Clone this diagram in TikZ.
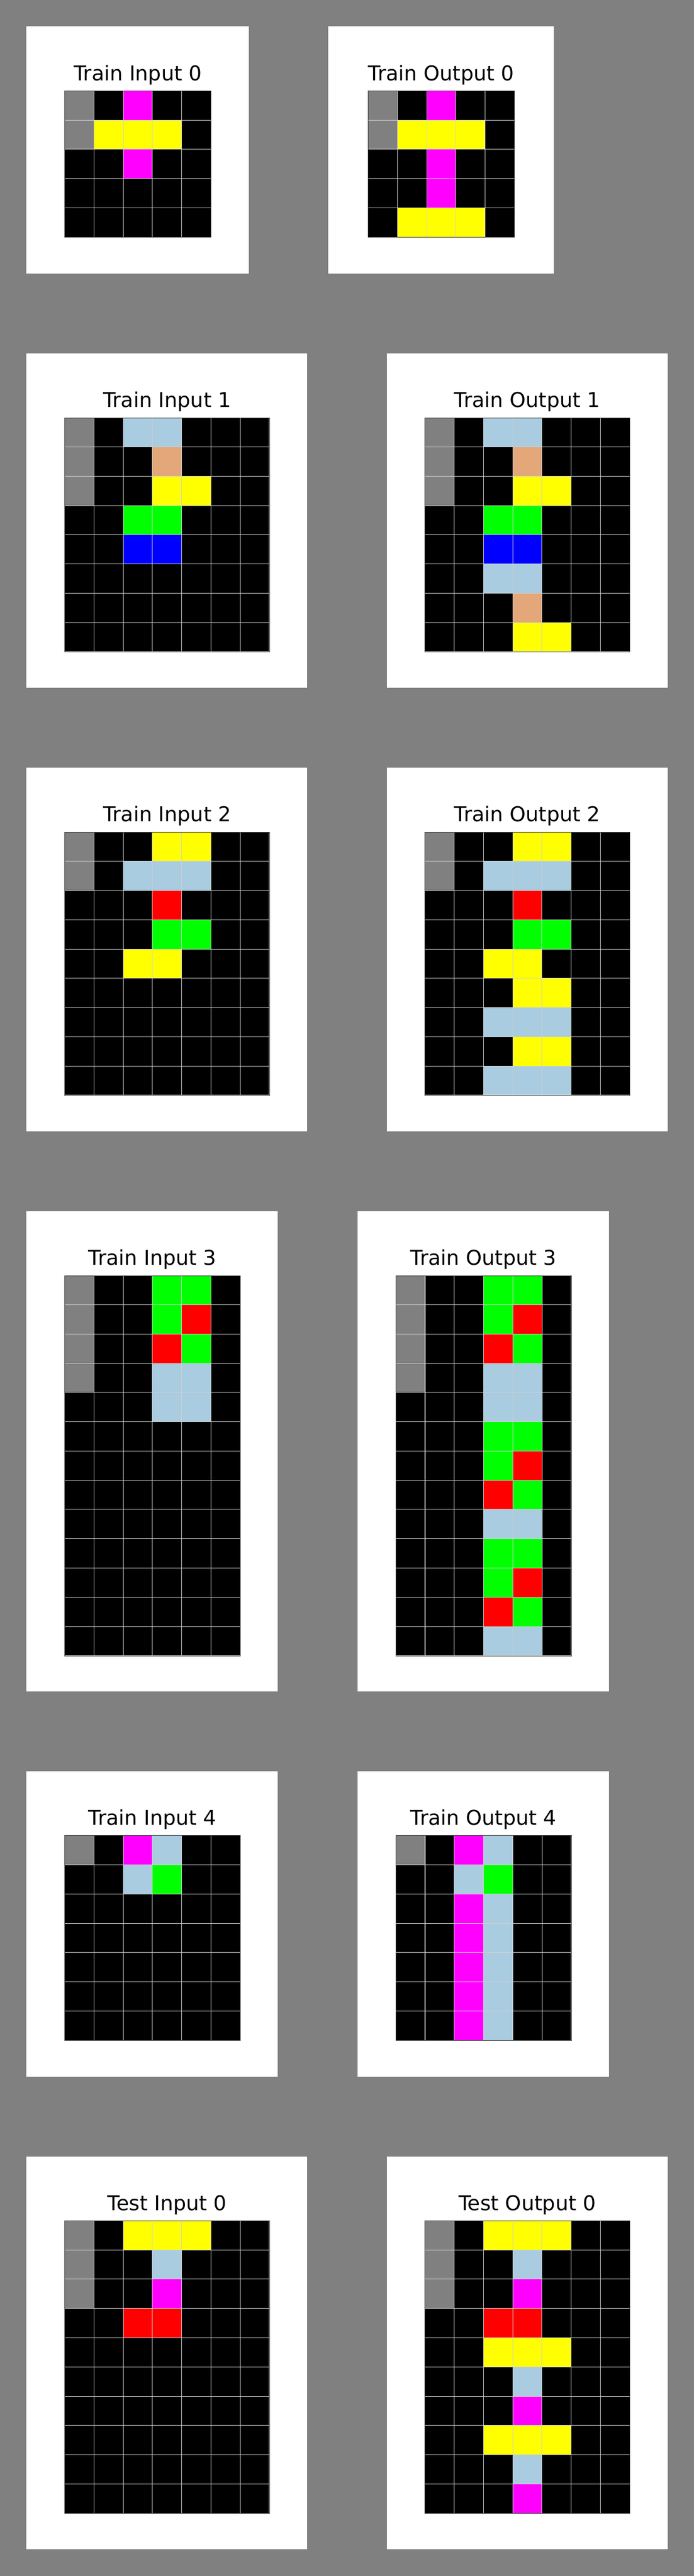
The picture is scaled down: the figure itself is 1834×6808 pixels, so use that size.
\documentclass[tikz,border=0pt]{standalone}
\usepackage{fontspec}
\newfontfamily\ttlfont{DejaVu Sans}
\definecolor{bgc}{HTML}{808080}
\definecolor{cK}{HTML}{000000}
\definecolor{cX}{HTML}{808080}
\definecolor{cM}{HTML}{FF00FF}
\definecolor{cY}{HTML}{FFFF00}
\definecolor{cL}{HTML}{A9CCE0}
\definecolor{cT}{HTML}{E3A77A}
\definecolor{cG}{HTML}{00FF00}
\definecolor{cU}{HTML}{0000FF}
\definecolor{cR}{HTML}{FF0000}
\definecolor{glc}{HTML}{D0D0D0}
\definecolor{olc}{HTML}{404040}
\def\cs{77.3}
\tikzset{
  gline/.style={draw=glc, line width=1.4pt},
  oline/.style={draw=olc, line width=0.8pt},
  panelbox/.style={fill=white},
  ttl/.style={anchor=base, inner sep=0pt, font=\ttlfont\fontsize{54}{60}\selectfont, text=black},
}
\newcommand{\panelbg}[4]{\fill[panelbox] (#1,#2) rectangle (#3,#4);}
\newcommand{\arcgrid}[7]{%
  \begin{scope}[shift={(#1,#2)}]
    \foreach \rw [count=\r from 0] in {#5} {
      \foreach \cc [count=\c from 0] in \rw {
        \fill[fill=c\cc] (\c*\cs,\r*\cs) rectangle ++(\cs,\cs);
      }
    }
    \foreach \i in {0,...,#3} \draw[gline] (\i*\cs,0) -- (\i*\cs,#4*\cs);
    \foreach \j in {0,...,#4} \draw[gline] (0,\j*\cs) -- (#3*\cs,\j*\cs);
    \draw[oline] (0,0) rectangle (#3*\cs,#4*\cs);
    \node[ttl] (#6) at (#3*\cs/2,-27.3) {#7};
  \end{scope}}
\begin{document}
\begin{tikzpicture}[x=1pt,y=-1pt]
\useasboundingbox (0,0) rectangle (1834,6808);
\fill[bgc] (0,0) rectangle (1834,6808);
% Row 0
\panelbg{70}{70}{657}{723}
\arcgrid{171}{240}{5}{5}{{X,K,M,K,K},{X,Y,Y,Y,K},{K,K,M,K,K},{K,K,K,K,K},{K,K,K,K,K}}{ti0}{Train Input 0}
\panelbg{867}{70}{1464}{723}
\arcgrid{973}{240}{5}{5}{{X,K,M,K,K},{X,Y,Y,Y,K},{K,K,M,K,K},{K,K,M,K,K},{K,Y,Y,Y,K}}{to0}{Train Output 0}
% Row 1
\panelbg{70}{934}{812}{1818}
\arcgrid{171}{1104}{7}{8}{{X,K,L,L,K,K,K},{X,K,K,T,K,K,K},{X,K,K,Y,Y,K,K},{K,K,G,G,K,K,K},{K,K,U,U,K,K,K},{K,K,K,K,K,K,K},{K,K,K,K,K,K,K},{K,K,K,K,K,K,K}}{ti1}{Train Input 1}
\panelbg{1022}{934}{1764}{1818}
\arcgrid{1123}{1104}{7}{8}{{X,K,L,L,K,K,K},{X,K,K,T,K,K,K},{X,K,K,Y,Y,K,K},{K,K,G,G,K,K,K},{K,K,U,U,K,K,K},{K,K,L,L,K,K,K},{K,K,K,T,K,K,K},{K,K,K,Y,Y,K,K}}{to1}{Train Output 1}
% Row 2
\panelbg{70}{2029}{812}{2990}
\arcgrid{171}{2199}{7}{9}{{X,K,K,Y,Y,K,K},{X,K,L,L,L,K,K},{K,K,K,R,K,K,K},{K,K,K,G,G,K,K},{K,K,Y,Y,K,K,K},{K,K,K,K,K,K,K},{K,K,K,K,K,K,K},{K,K,K,K,K,K,K},{K,K,K,K,K,K,K}}{ti2}{Train Input 2}
\panelbg{1022}{2029}{1764}{2990}
\arcgrid{1123}{2199}{7}{9}{{X,K,K,Y,Y,K,K},{X,K,L,L,L,K,K},{K,K,K,R,K,K,K},{K,K,K,G,G,K,K},{K,K,Y,Y,K,K,K},{K,K,K,Y,Y,K,K},{K,K,L,L,L,K,K},{K,K,K,Y,Y,K,K},{K,K,L,L,L,K,K}}{to2}{Train Output 2}
% Row 3
\panelbg{70}{3201}{734.5}{4470}
\arcgrid{171}{3371}{6}{13}{{X,K,K,G,G,K},{X,K,K,G,R,K},{X,K,K,R,G,K},{X,K,K,L,L,K},{K,K,K,L,L,K},{K,K,K,K,K,K},{K,K,K,K,K,K},{K,K,K,K,K,K},{K,K,K,K,K,K},{K,K,K,K,K,K},{K,K,K,K,K,K},{K,K,K,K,K,K},{K,K,K,K,K,K}}{ti3}{Train Input 3}
\panelbg{945}{3201}{1609}{4470}
\arcgrid{1046}{3371}{6}{13}{{X,K,K,G,G,K},{X,K,K,G,R,K},{X,K,K,R,G,K},{X,K,K,L,L,K},{K,K,K,L,L,K},{K,K,K,G,G,K},{K,K,K,G,R,K},{K,K,K,R,G,K},{K,K,K,L,L,K},{K,K,K,G,G,K},{K,K,K,G,R,K},{K,K,K,R,G,K},{K,K,K,L,L,K}}{to3}{Train Output 3}
% Row 4
\panelbg{70}{4681}{734.5}{5488}
\arcgrid{171}{4851}{6}{7}{{X,K,M,L,K,K},{K,K,L,G,K,K},{K,K,K,K,K,K},{K,K,K,K,K,K},{K,K,K,K,K,K},{K,K,K,K,K,K},{K,K,K,K,K,K}}{ti4}{Train Input 4}
\panelbg{945}{4681}{1609}{5488}
\arcgrid{1046}{4851}{6}{7}{{X,K,M,L,K,K},{K,K,L,G,K,K},{K,K,M,L,K,K},{K,K,M,L,K,K},{K,K,M,L,K,K},{K,K,M,L,K,K},{K,K,M,L,K,K}}{to4}{Train Output 4}
% Row 5
\panelbg{70}{5699}{812}{6737.5}
\arcgrid{171}{5869}{7}{10}{{X,K,Y,Y,Y,K,K},{X,K,K,L,K,K,K},{X,K,K,M,K,K,K},{K,K,R,R,K,K,K},{K,K,K,K,K,K,K},{K,K,K,K,K,K,K},{K,K,K,K,K,K,K},{K,K,K,K,K,K,K},{K,K,K,K,K,K,K},{K,K,K,K,K,K,K}}{si0}{Test Input 0}
\panelbg{1022}{5699}{1764}{6737.5}
\arcgrid{1123}{5869}{7}{10}{{X,K,Y,Y,Y,K,K},{X,K,K,L,K,K,K},{X,K,K,M,K,K,K},{K,K,R,R,K,K,K},{K,K,Y,Y,Y,K,K},{K,K,K,L,K,K,K},{K,K,K,M,K,K,K},{K,K,Y,Y,Y,K,K},{K,K,K,L,K,K,K},{K,K,K,M,K,K,K}}{so0}{Test Output 0}
\end{tikzpicture}
\end{document}
